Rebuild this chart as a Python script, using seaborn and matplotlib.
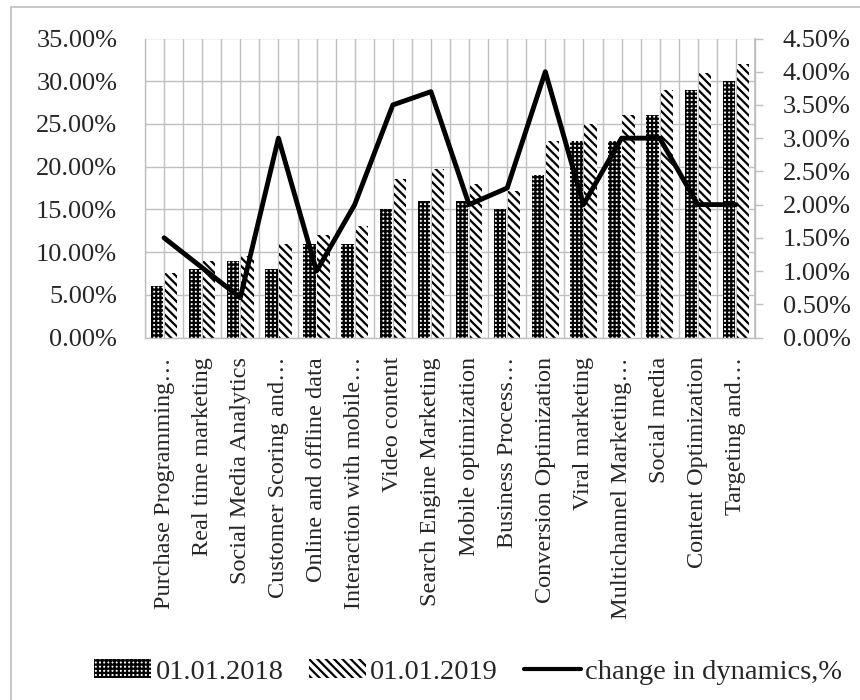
import numpy as np
import pandas as pd
import matplotlib
matplotlib.use("Agg")
import matplotlib.pyplot as plt
import seaborn as sns
from matplotlib.ticker import MultipleLocator, FuncFormatter
from matplotlib.patches import Patch, Rectangle
from matplotlib.lines import Line2D

categories = [
    "Purchase Programming…", "Real time marketing", "Social Media Analytics",
    "Customer Scoring and…", "Online and offline data", "Interaction with mobile…",
    "Video content", "Search Engine Marketing", "Mobile optimization",
    "Business Process…", "Conversion Optimization", "Viral marketing",
    "Multichannel Marketing…", "Social media", "Content Optimization",
    "Targeting and…",
]
values_2018 = [0.06, 0.08, 0.09, 0.08, 0.11, 0.11, 0.15, 0.16, 0.16, 0.15,
               0.19, 0.23, 0.23, 0.26, 0.29, 0.30]
values_2019 = [0.075, 0.09, 0.095, 0.11, 0.12, 0.13, 0.185, 0.197, 0.18, 0.172,
               0.23, 0.25, 0.26, 0.29, 0.31, 0.32]
change_dynamics = [0.015, 0.0105, 0.006, 0.030, 0.010, 0.020, 0.035, 0.037, 0.020,
                   0.0225, 0.040, 0.020, 0.030, 0.030, 0.020, 0.020]
series_names = ["01.01.2018", "01.01.2019"]
line_name = "change in dynamics,%"

sns.set_theme(style="white")
plt.rcParams["font.family"] = ["Liberation Serif", "DejaVu Serif"]
plt.rcParams["hatch.linewidth"] = 1.6
plt.rcParams["hatch.color"] = "black"

FS_TICK = 19
FS_CAT = 17.5
FS_LEG = 20.5
GRID = "#bfbfbf"

df = pd.DataFrame({
    "category": categories * 2,
    "value": values_2018 + values_2019,
    "year": [series_names[0]] * len(categories) + [series_names[1]] * len(categories),
})

fig = plt.figure(figsize=(8.6, 7.0), dpi=100)
ax = fig.add_axes([145 / 860, 1 - 337.5 / 700, 610 / 860, (337.5 - 38.5) / 700])

sns.barplot(data=df, x="category", y="value", hue="year", order=categories,
            hue_order=series_names, palette=["white", "white"], width=0.74,
            gap=0.13, edgecolor="black", linewidth=0, legend=False, ax=ax)
hatches = ["++++", "\\\\\\\\"]
for cont, h in zip(ax.containers, hatches):
    for bar in cont:
        bar.set_hatch(h)
        bar.set_edgecolor("black")

ax.set_ylim(0, 0.35)
ax.set_xlim(-0.5, len(categories) - 0.5)
ax.yaxis.set_major_locator(MultipleLocator(0.05))
ax.yaxis.set_major_formatter(FuncFormatter(lambda v, p: f"{v*100:.2f}%"))
ax.xaxis.set_minor_locator(MultipleLocator(0.5))
ax.grid(True, axis="y", which="major", color=GRID, lw=1.0)
ax.grid(True, axis="x", which="both", color=GRID, lw=1.0)
ax.set_axisbelow(True)
ax.set_xlabel("")
ax.set_ylabel("")
ax.tick_params(axis="y", length=0, pad=20, labelsize=FS_TICK)
ax.tick_params(axis="x", which="both", length=0, pad=14, labelsize=FS_CAT)
ax.set_xticks(range(len(categories)))
ax.set_xticklabels(categories, rotation=90, fontsize=FS_CAT)
ax.spines["top"].set_visible(False)
for s in ["left", "bottom", "right"]:
    ax.spines[s].set_color(GRID)
    ax.spines[s].set_linewidth(1.0)

ax2 = ax.twinx()
sns.lineplot(x=np.arange(len(categories)), y=change_dynamics, ax=ax2,
             color="black", lw=3.5, sort=False)
ax2.set_ylim(0, 0.045)
ax2.yaxis.set_major_locator(MultipleLocator(0.005))
ax2.yaxis.set_major_formatter(FuncFormatter(lambda v, p: f"{v*100:.2f}%"))
ax2.tick_params(axis="y", length=6, width=1.0, color=GRID, pad=14, labelsize=FS_TICK)
ax2.grid(False)
for s in ["top", "left", "bottom"]:
    ax2.spines[s].set_visible(False)
ax2.spines["right"].set_color(GRID)
ax2.set_xlim(-0.5, len(categories) - 0.5)

handles = [
    Patch(facecolor="white", edgecolor="black", hatch=hatches[0], lw=0),
    Patch(facecolor="white", edgecolor="black", hatch=hatches[1], lw=0),
    Line2D([0], [0], color="black", lw=3),
]
fig.legend(handles, series_names + [line_name], loc="center",
           bbox_to_anchor=(468 / 860, 1 - 672 / 700), ncol=3, frameon=False,
           fontsize=FS_LEG, handlelength=2.0, handleheight=0.6,
           handletextpad=0.15, columnspacing=0.9, borderpad=0)

fig.patches.append(Rectangle((11 / 860, -0.1), 2.0, 1 - 7 / 700 + 0.1,
                             transform=fig.transFigure, fill=False,
                             edgecolor="#bfbfbf", lw=1.2, zorder=0))

fig.savefig("out.png", dpi=100)
